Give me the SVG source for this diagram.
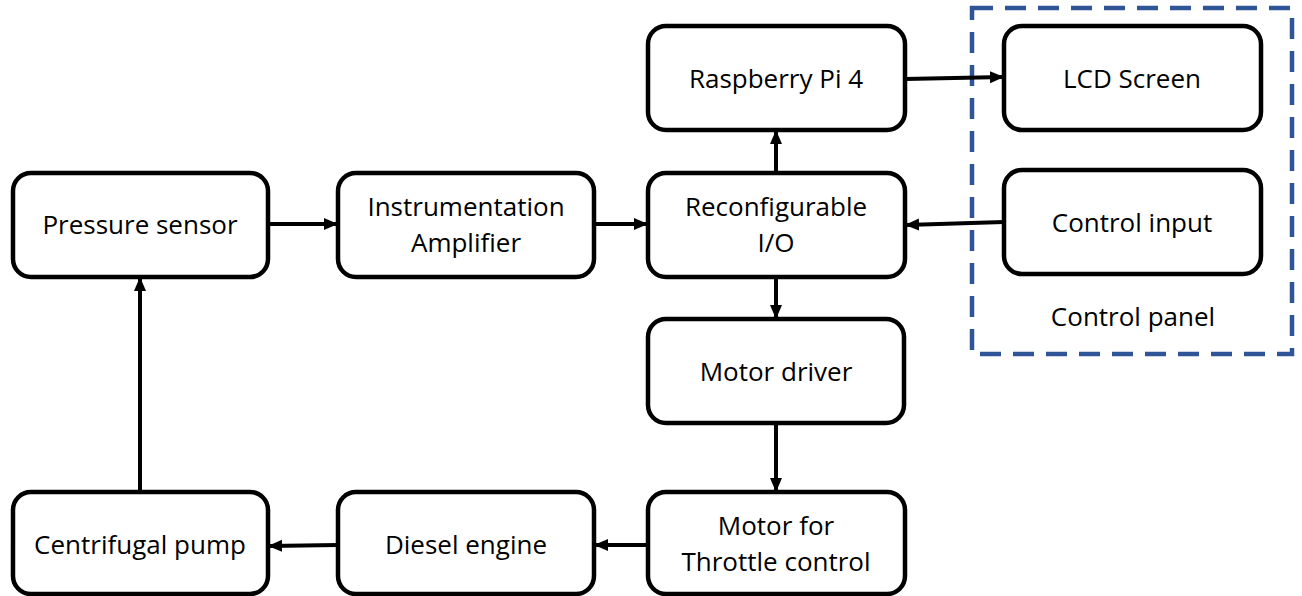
<svg xmlns="http://www.w3.org/2000/svg" width="1302" height="596" viewBox="0 0 1302 596">
<style>
.box{fill:#fff;stroke:#000;stroke-width:4.5}
.t{font-family:"Open Sans","Liberation Sans",sans-serif;font-size:26px;fill:#000;text-anchor:middle}
.c{stroke:#000;stroke-width:4;fill:none;marker-end:url(#ah)}
</style>
<defs>
<marker id="ah" markerUnits="userSpaceOnUse" markerWidth="14" markerHeight="14" viewBox="0 0 14 14" refX="13" refY="7" orient="auto">
<path d="M0,1 L14,7 L0,13 Z" fill="#000"/>
</marker>
</defs>
<rect id="control-panel" x="972" y="8" width="320" height="346" fill="none" stroke="#2F5597" stroke-width="4.5" stroke-dasharray="21,12"/>
<g id="pressure-sensor"><rect class="box" x="13" y="173" width="255" height="104" rx="18"/><text class="t" x="140" y="234">Pressure sensor</text></g>
<g id="instrumentation-amplifier"><rect class="box" x="338" y="173" width="256" height="104" rx="18"/><text class="t" x="466" y="216">Instrumentation</text><text class="t" x="466" y="252">Amplifier</text></g>
<g id="reconfigurable-io"><rect class="box" x="648" y="173" width="257" height="104" rx="18"/><text class="t" x="776" y="216">Reconfigurable</text><text class="t" x="776" y="252">I/O</text></g>
<g id="raspberry-pi"><rect class="box" x="648" y="26" width="257" height="104" rx="18"/><text class="t" x="776" y="88">Raspberry Pi 4</text></g>
<g id="lcd-screen"><rect class="box" x="1004" y="26" width="257" height="104" rx="18"/><text class="t" x="1132" y="88">LCD Screen</text></g>
<g id="control-input"><rect class="box" x="1004" y="170" width="257" height="104" rx="18"/><text class="t" x="1132" y="232">Control input</text></g>
<text class="t" x="1133" y="326">Control panel</text>
<g id="motor-driver"><rect class="box" x="648" y="319" width="256" height="104" rx="18"/><text class="t" x="776" y="381">Motor driver</text></g>
<g id="motor-throttle"><rect class="box" x="648" y="492" width="257" height="102" rx="18"/><text class="t" x="776" y="535">Motor for</text><text class="t" x="776" y="571">Throttle control</text></g>
<g id="diesel-engine"><rect class="box" x="338" y="492" width="256" height="102" rx="18"/><text class="t" x="466" y="554">Diesel engine</text></g>
<g id="centrifugal-pump"><rect class="box" x="13" y="492" width="255" height="102" rx="18"/><text class="t" x="140" y="554">Centrifugal pump</text></g>
<g id="connectors">
<line class="c" x1="268" y1="224" x2="337" y2="224"/>
<line class="c" x1="594" y1="224" x2="647" y2="224"/>
<line class="c" x1="776" y1="173" x2="776" y2="131"/>
<line class="c" x1="905" y1="79" x2="1003" y2="77"/>
<line class="c" x1="1004" y1="222" x2="906" y2="225"/>
<line class="c" x1="776" y1="277" x2="776" y2="318"/>
<line class="c" x1="776" y1="423" x2="776" y2="491"/>
<line class="c" x1="648" y1="545" x2="595" y2="545"/>
<line class="c" x1="338" y1="545" x2="269" y2="546"/>
<line class="c" x1="140" y1="492" x2="140" y2="278"/>
</g>
</svg>
